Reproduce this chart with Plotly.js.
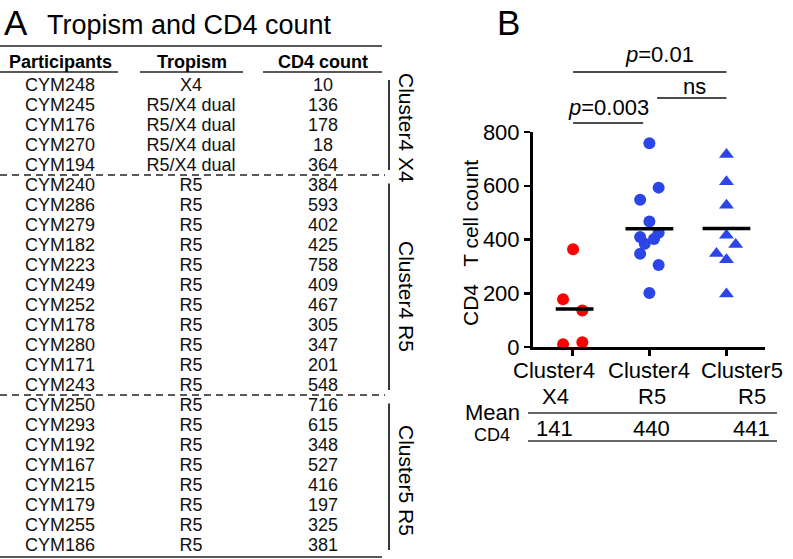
<!DOCTYPE html>
<html><head><meta charset="utf-8">
<script src="https://cdn.plot.ly/plotly-3.0.1.min.js"></script>
<style>html,body{margin:0;padding:0;background:#fff}#chart{width:793px;height:559px}</style>
</head><body><div id="chart"></div>
<script>
// ---------------- DATA ----------------
const participants = ['CYM248','CYM245','CYM176','CYM270','CYM194',
  'CYM240','CYM286','CYM279','CYM182','CYM223','CYM249','CYM252','CYM178','CYM280','CYM171','CYM243',
  'CYM250','CYM293','CYM192','CYM167','CYM215','CYM179','CYM255','CYM186'];
const tropism = ['X4','R5/X4 dual','R5/X4 dual','R5/X4 dual','R5/X4 dual',
  'R5','R5','R5','R5','R5','R5','R5','R5','R5','R5','R5',
  'R5','R5','R5','R5','R5','R5','R5','R5'];
const cd4Count = [10,136,178,18,364,
  384,593,402,425,758,409,467,305,347,201,548,
  716,615,348,527,416,197,325,381];
const clusterOf = ['Cluster4 X4','Cluster4 X4','Cluster4 X4','Cluster4 X4','Cluster4 X4',
  'Cluster4 R5','Cluster4 R5','Cluster4 R5','Cluster4 R5','Cluster4 R5','Cluster4 R5','Cluster4 R5','Cluster4 R5','Cluster4 R5','Cluster4 R5','Cluster4 R5',
  'Cluster5 R5','Cluster5 R5','Cluster5 R5','Cluster5 R5','Cluster5 R5','Cluster5 R5','Cluster5 R5','Cluster5 R5'];
const headers = ['Participants','Tropism','CD4 count'];
const groups = ['Cluster4 X4','Cluster4 R5','Cluster5 R5'];
const groupTickLine1 = ['Cluster4','Cluster4','Cluster5'];
const groupTickLine2 = ['X4','R5','R5'];
const meanCD4 = [141, 440, 441];
const comparisons = [[0,1,'<i>p</i>=0.003'],[1,2,'ns'],[0,2,'<i>p</i>=0.01']];
const yTicks = [0,200,400,600,800];
// horizontal scatter offsets of the dots inside each column (as drawn)
const jitter = [-0.12,0.13,-0.12,0.13,0.01,
  -0.06,0.12,0.06,0.12,0,-0.12,0,0.12,-0.12,0,-0.12,
  0,0,-0.13,0,0,0,0,0.12];

// ---------------- LAYOUT HELPERS ----------------
const W=793,H=559;
const FONT='"Liberation Sans", Arial, Helvetica, sans-serif';
const plotL=533, plotR=765, plotT=132, plotB=347;
const xRange=[-0.51,2.5], yRange=[0,800];
const xDom=[plotL/W, plotR/W], yDom=[1-plotB/H, 1-plotT/H];
const px = p => p/W, py = p => 1 - p/H;
const xp = v => xDom[0] + (v-xRange[0])/(xRange[1]-xRange[0])*(xDom[1]-xDom[0]);
const rowTop=86,rowStep=20;
const rowOf = p => (p-rowTop)/rowStep;
const RED='#ff0000', BLUE='#2b45e6';
const groupColors=[RED,BLUE,BLUE];
const groupSymbols=['circle','circle','triangle-up'];
const colX=[60,191,323];

const traces=[];
// table text columns
[participants,tropism,cd4Count].forEach((col,c)=>{
  traces.push({type:'scatter',mode:'text',xaxis:'x2',yaxis:'y2',
    x:col.map(()=>colX[c]), y:col.map((_,i)=>i), text:col.map(String),
    textposition:'middle center', textfont:{family:FONT,size:18,color:'#111'},
    hoverinfo:'skip',showlegend:false,cliponaxis:false});
});
// dot plot
groups.forEach((g,gi)=>{
  const idx=clusterOf.map((c,i)=>c===g?i:-1).filter(i=>i>=0);
  traces.push({type:'scatter',mode:'markers',xaxis:'x',yaxis:'y',
    x:idx.map(i=>gi+jitter[i]), y:idx.map(i=>cd4Count[i]),
    marker:{symbol:groupSymbols[gi],size:gi===2?13:12,color:groupColors[gi],line:{width:0}},
    hoverinfo:'skip',showlegend:false,cliponaxis:false});
});
// mean bars
const meanHalf=[0.245,0.31,0.31], meanCentre=[0.03,0,0];
groups.forEach((g,gi)=>{
  traces.push({type:'scatter',mode:'lines',xaxis:'x',yaxis:'y',
    x:[gi+meanCentre[gi]-meanHalf[gi], gi+meanCentre[gi]+meanHalf[gi]], y:[meanCD4[gi],meanCD4[gi]],
    line:{color:'#000',width:3.5},hoverinfo:'skip',showlegend:false,cliponaxis:false});
});

// ---------------- SHAPES ----------------
const shapes=[];
const LC='#222';
const tline=(x0,x1,y,dash)=>shapes.push({type:'line',xref:'x2',yref:'y2',x0,x1,y0:y,y1:y,line:{color:LC,width:1.5,dash:dash||'solid'}});
tline(0,382,rowOf(46));
[[0,118],[140,243],[263,382]].forEach(([a,b])=>tline(a,b,rowOf(72)));
tline(0,382,participants.length-1+0.55);
// group boundaries / brackets
groups.forEach((g,gi)=>{
  const idx=clusterOf.map((c,i)=>c===g?i:-1).filter(i=>i>=0);
  const s=idx[0], e=idx[idx.length-1];
  if(gi<groups.length-1) tline(0,385,e+0.45,'7px,5px');
  shapes.push({type:'line',xref:'x2',yref:'y2',x0:389,x1:389,
    y0: s===0 ? s-0.3 : s-0.12, y1: e+0.2,
    line:{color:LC,width:1.8}});
});
// significance lines
const sigY=[123,98,72], sigInset=[[0.01,0.08],[0.1,0],[0.01,0]];
comparisons.forEach(([a,b],k)=>{
  shapes.push({type:'line',xref:'paper',yref:'paper',x0:xp(a+sigInset[k][0]),x1:xp(b-sigInset[k][1]),
    y0:py(sigY[k]),y1:py(sigY[k]),line:{color:'#111',width:1.5}});
});
// mean table lines
[413,441].forEach(y=>shapes.push({type:'line',xref:'paper',yref:'paper',x0:px(528),x1:px(777),y0:py(y),y1:py(y),line:{color:'#333',width:1.5}}));

// ---------------- ANNOTATIONS ----------------
const ann=[];
const A=(o)=>ann.push(Object.assign({showarrow:false,borderpad:0,font:{family:FONT,size:18,color:'#000'}},o));
A({xref:'paper',yref:'paper',x:px(3),y:py(22),xanchor:'left',yanchor:'middle',text:'A',font:{family:FONT,size:35,color:'#000'}});
A({xref:'paper',yref:'paper',x:px(46),y:py(25),xanchor:'left',yanchor:'middle',text:'Tropism and CD4 count',font:{family:FONT,size:27,color:'#000'}});
A({xref:'paper',yref:'paper',x:px(496),y:py(22),xanchor:'left',yanchor:'middle',text:'B',font:{family:FONT,size:35,color:'#000'}});
headers.forEach((h,c)=>A({xref:'x2',yref:'y2',x:colX[c]+(c===1?1:0),y:rowOf(62),xanchor:'center',yanchor:'middle',text:'<b>'+h+'</b>',font:{family:FONT,size:18,color:'#000'}}));
// cluster side labels
const labelShift=[0.1,0.5,0.2];
groups.forEach((g,gi)=>{
  const idx=clusterOf.map((c,i)=>c===g?i:-1).filter(i=>i>=0);
  const mid=(idx[0]+idx[idx.length-1])/2+labelShift[gi];
  A({xref:'x2',yref:'y2',x:407,y:mid,textangle:90,xanchor:'center',yanchor:'middle',text:g,font:{family:FONT,size:21,color:'#000'}});
});
// y-axis title
A({xref:'paper',yref:'paper',x:px(470),y:py(243),textangle:-90,xanchor:'center',yanchor:'middle',text:'CD4\u00a0\u00a0 T cell count',font:{family:FONT,size:21,color:'#000'}});
// x tick labels (two lines) and mean values
const shift1=[-18,0,16], shift2=[-17,3,26];
groups.forEach((g,gi)=>{
  A({xref:'x',yref:'paper',x:gi,xshift:shift1[gi],y:py(370),xanchor:'center',yanchor:'middle',text:groupTickLine1[gi],font:{family:FONT,size:22,color:'#000'}});
  A({xref:'x',yref:'paper',x:gi,xshift:shift2[gi],y:py(396),xanchor:'center',yanchor:'middle',text:groupTickLine2[gi],font:{family:FONT,size:22,color:'#000'}});
  A({xref:'x',yref:'paper',x:gi,xshift:shift2[gi]-1,y:py(428),xanchor:'center',yanchor:'middle',text:String(meanCD4[gi]),font:{family:FONT,size:22,color:'#000'}});
});
A({xref:'paper',yref:'paper',x:px(521),y:py(412),xanchor:'right',yanchor:'middle',text:'Mean',font:{family:FONT,size:22,color:'#000'}});
A({xref:'paper',yref:'paper',x:px(492),y:py(435),xanchor:'center',yanchor:'middle',text:'CD4',font:{family:FONT,size:18,color:'#000'}});
// significance labels
const sigTextY=[107,86,55], sigTextShift=[0,3,10];
comparisons.forEach(([a,b,t],k)=>{
  const x0=a+sigInset[k][0], x1=b-sigInset[k][1];
  A({xref:'paper',yref:'paper',x:xp((x0+x1)/2),xshift:sigTextShift[k],y:py(sigTextY[k]),xanchor:'center',yanchor:'middle',text:t,font:{family:FONT,size:22,color:'#000'}});
});

const layout={
  width:W,height:H,margin:{l:0,r:0,t:0,b:0},paper_bgcolor:'#fff',plot_bgcolor:'rgba(0,0,0,0)',
  showlegend:false,font:{family:FONT,color:'#000'},
  xaxis:{domain:xDom,range:xRange,showgrid:false,zeroline:false,showline:true,linecolor:'#000',linewidth:3,
    ticks:'outside',tickvals:[0,1,2],ticktext:['','',''],ticklen:6,tickwidth:2.5,tickcolor:'#000',showticklabels:false,fixedrange:true},
  yaxis:{domain:yDom,range:yRange,showgrid:false,zeroline:false,showline:true,linecolor:'#000',linewidth:3,
    ticks:'outside',tickvals:yTicks,ticklen:6,tickwidth:2.5,tickcolor:'#000',tickfont:{family:FONT,size:22,color:'#000'},fixedrange:true},
  xaxis2:{domain:[0,1],range:[0,W],visible:false,anchor:'y2',fixedrange:true},
  yaxis2:{domain:[0,1],range:[(H-rowTop)/rowStep,-rowTop/rowStep],visible:false,anchor:'x2',fixedrange:true},
  shapes:shapes,annotations:ann
};
Plotly.newPlot('chart',traces,layout,{staticPlot:true,displayModeBar:false});
</script></body></html>
